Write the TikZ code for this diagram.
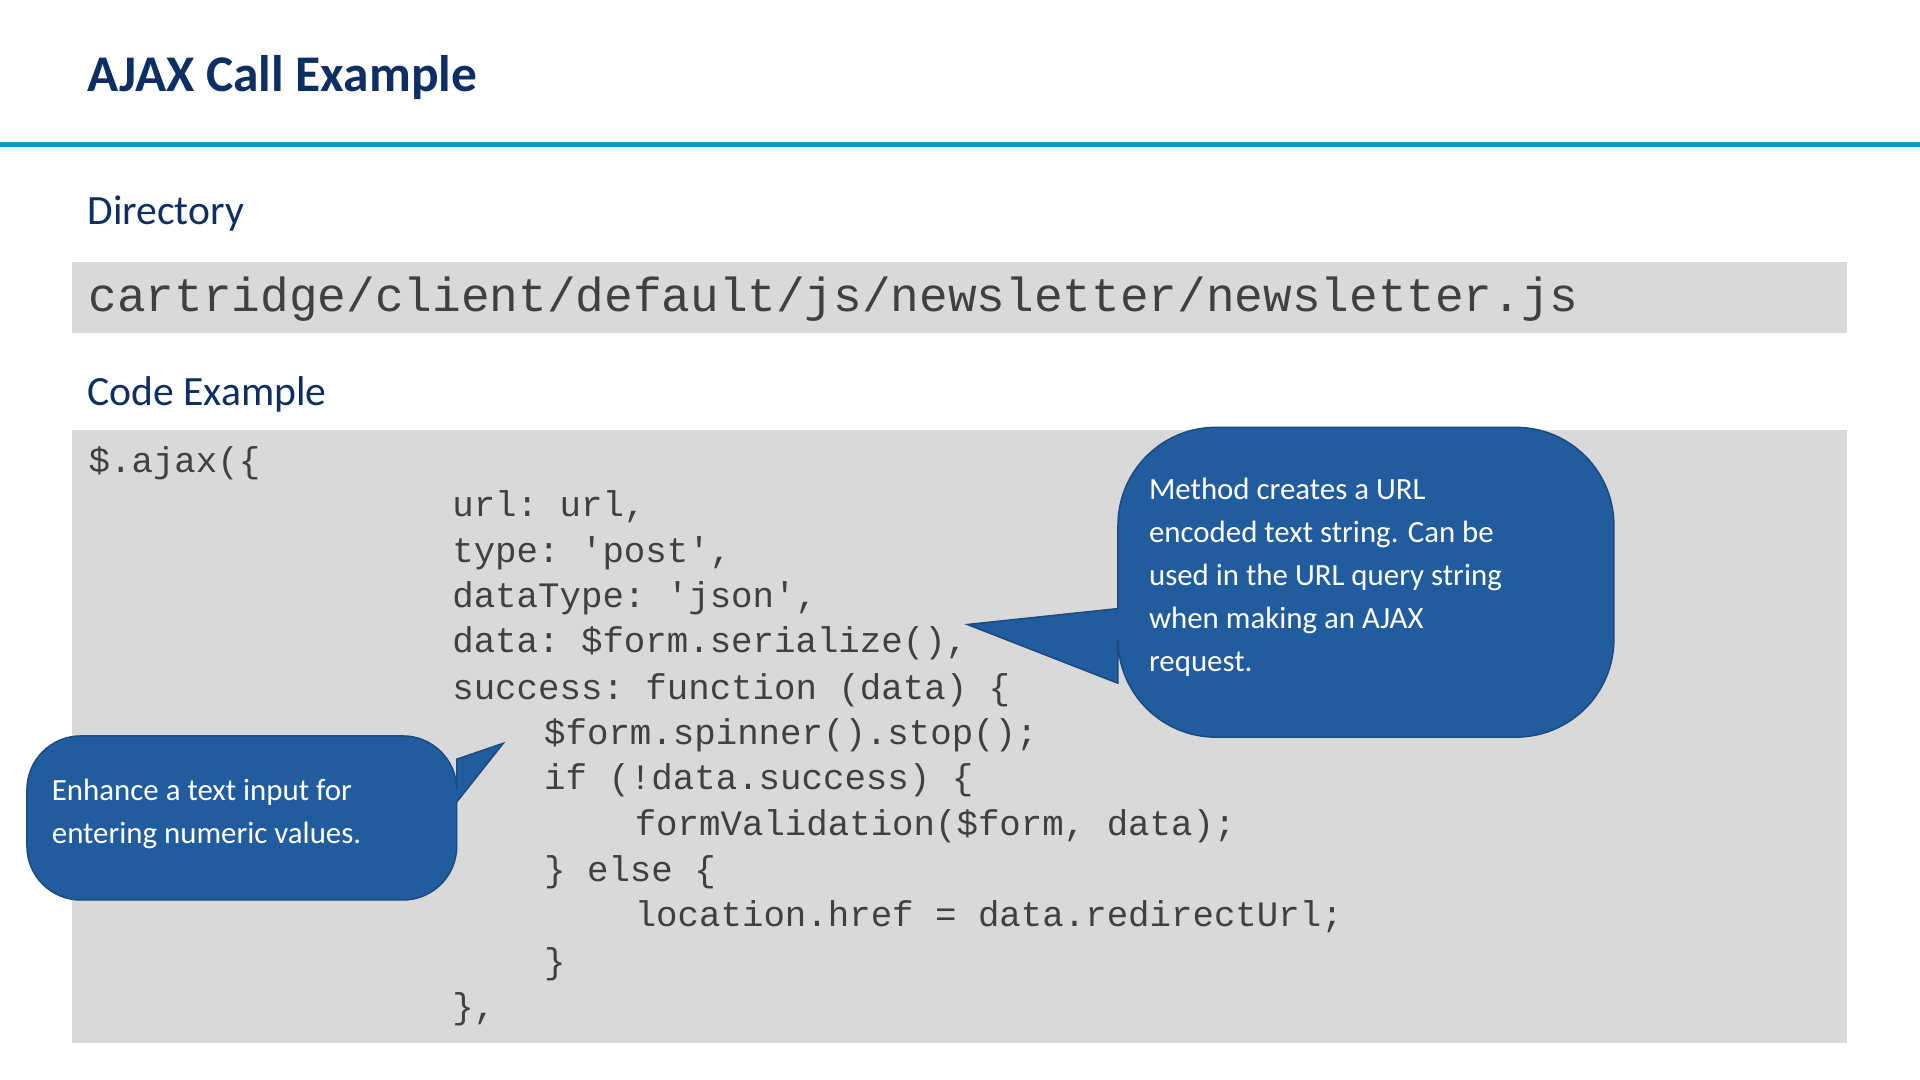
\documentclass[tikz,border=0pt]{standalone}
\usepackage{fontspec}
\setmainfont{Carlito}
\setmonofont{Liberation Mono}
\usetikzlibrary{positioning}
\definecolor{navy}{HTML}{0D2F63}
\definecolor{rule}{HTML}{0A9AD9}
\definecolor{codebg}{HTML}{D9D9D9}
\definecolor{callblue}{HTML}{215C9E}
\definecolor{codetext}{HTML}{404040}
\tikzset{head/.style={anchor=base west, inner sep=0pt, text=navy, font=\fontsize{17}{20}\selectfont},
        code/.style={anchor=base west, inner sep=0pt, text=codetext, font=\ttfamily\fontsize{14.6}{17}\selectfont},
        note/.style={anchor=north west, inner sep=0pt, text=white, align=left, font=\fontsize{12.6}{17.6}\selectfont},
        callout/.style={fill=callblue, draw=callblue!80!black, line width=0.6pt}}
\begin{document}
\begin{tikzpicture}[x=0.5pt, y=-0.5pt]
    \useasboundingbox (0,0) rectangle (1568,882);
    \fill[white] (0,0) rectangle (1568,882);
    \node (title) [anchor=base west, inner sep=0pt, text=navy, font=\bfseries\fontsize{21}{24}\selectfont] at (71,75) {AJAX Call Example};
    \draw[rule, line width=1.8pt] (0,118) -- (1568,118);
    \node (dirhead) [head] at (71,183) {Directory};
    \fill[codebg] (59,214) rectangle (1508,272);
    \node (dirpath) [code, font=\ttfamily\fontsize{19.5}{22}\selectfont] at (72,254) {cartridge/client/default/js/newsletter/newsletter.js};
    \node (codehead) [head] at (71,331) {Code Example};
    \fill[codebg] (59,351) rectangle (1508,852);
    \foreach \x/\y/\txt [count=\i] in {
        72/386/{\$.ajax(\{},
        369/422/{url: url,},
        369/459/{type: 'post',},
        369/496/{dataType: 'json',},
        369/533/{data: \$form.serialize(),},
        369/571/{success: function (data) \{},
        444/608/{\$form.spinner().stop();},
        444/645/{if (!data.success) \{},
        518/682/{formValidation(\$form, data);},
        444/720/{\} else \{},
        518/757/{location.href = data.redirectUrl;},
        444/795/{\}},
        369/832/{\},}} {
        \node (line\i) [code] at (\x,\y) {\txt};
    }
    % right callout
    \draw[callout, rounded corners=40] (913,497) -- (913,349) -- (1318,349) -- (1318,602) -- (913,602) [sharp corners] -- (913,558) -- (790,510) -- cycle;
    \node (method) [note] at (938,390) {Method creates a URL\\encoded text string. Can be\\used in the URL query string\\when making an AJAX\\request.};
    % left callout
    \draw[callout, rounded corners=22] (373,655) -- (373,735) -- (22,735) -- (22,601) -- (373,601) [sharp corners] -- (373,620) -- (411,607) -- cycle;
    \node (enhance) [note] at (42,636) {Enhance a text input for\\entering numeric values.};
\end{tikzpicture}
\end{document}
